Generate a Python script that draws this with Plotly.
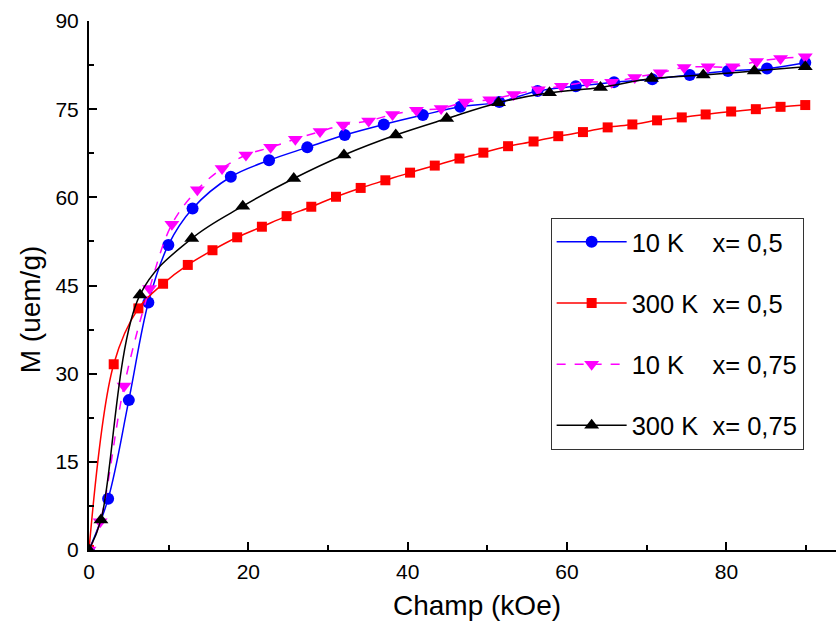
import plotly.graph_objects as go

# 10 K, x = 0,5 (blue circles)
b_x = [0, 2.4, 5.0, 7.45, 9.96, 13.0, 17.8, 22.6, 27.4, 32.1, 37.0, 41.9, 46.6, 51.5,
       56.3, 61.1, 65.9, 70.7, 75.4, 80.2, 85.1, 89.9]
b_y = [0, 8.7, 25.5, 42.1, 51.9, 58.1, 63.5, 66.3, 68.5, 70.6, 72.4, 74.0, 75.4, 76.2,
       78.1, 78.9, 79.6, 80.1, 80.8, 81.5, 81.9, 82.9]

# 300 K, x = 0,5 (red squares)
r_x = [0, 3.1, 6.2, 9.3, 12.4, 15.5, 18.6, 21.7, 24.8, 27.9, 31.0, 34.1, 37.2, 40.3, 43.4,
       46.5, 49.5, 52.6, 55.8, 58.9, 62.0, 65.1, 68.2, 71.3, 74.4, 77.4, 80.6, 83.7, 86.8, 89.9]
r_y = [0, 31.6, 41.1, 45.3, 48.5, 51.0, 53.2, 55.0, 56.8, 58.4, 60.1, 61.6, 62.9, 64.2, 65.4,
       66.6, 67.6, 68.7, 69.5, 70.4, 71.1, 71.9, 72.4, 73.1, 73.6, 74.1, 74.6, 75.0, 75.4, 75.7]

# 10 K, x = 0,75 (magenta down-triangles)
m_x = [0, 1.4, 4.4, 7.6, 10.4, 13.6, 16.7, 19.7, 22.8, 25.9, 29.0, 31.9, 35.1, 38.1, 41.1,
       44.2, 47.2, 50.3, 53.3, 56.4, 59.3, 62.5, 65.6, 68.5, 71.7, 74.7, 77.7, 80.8, 83.8, 86.8, 89.9]
m_y = [0, 4.8, 27.9, 44.5, 55.4, 61.3, 64.9, 67.2, 68.5, 69.9, 71.2, 72.3, 73.0, 74.1, 74.8,
       75.1, 76.2, 76.6, 77.5, 78.3, 78.9, 79.6, 79.6, 80.4, 81.2, 82.1, 82.2, 82.2, 83.1, 83.6, 83.9]

# 300 K, x = 0,75 (black up-triangles)
k_x = [0, 1.5, 6.4, 12.9, 19.3, 25.7, 32.0, 38.5, 44.9, 51.4, 57.8, 64.2, 70.6, 77.1, 83.5, 89.9]
k_y = [0, 5.1, 43.4, 53.0, 58.5, 63.2, 67.2, 70.6, 73.4, 76.1, 77.8, 78.7, 80.2, 80.8, 81.5, 82.2]

x_ticks = [0, 20, 40, 60, 80]
y_ticks = [0, 15, 30, 45, 60, 75, 90]

NB = "\u00a0"
names = ["10 K" + NB * 4 + "x= 0,5",
         "300 K" + NB * 2 + "x= 0,5",
         "10 K" + NB * 4 + "x= 0,75",
         "300 K" + NB * 2 + "x= 0,75"]

FONT = "Liberation Sans, Arial, sans-serif"

fig = go.Figure()
series = [
    (b_x, b_y, "#0000FF", "circle", 12, "solid"),
    (r_x, r_y, "#FF0000", "square", 10, "solid"),
    (m_x, m_y, "#FF00FF", "triangle-down", 13, "dash"),
    (k_x, k_y, "#000000", "triangle-up", 13, "solid"),
]
for i, (xs, ys, col, sym, sz, dash) in enumerate(series):
    fig.add_trace(go.Scatter(
        x=xs, y=ys, mode="lines+markers", name=names[i], legendgroup=str(i),
        line=dict(color=col, width=1.5, shape="spline", smoothing=1, dash=dash),
        marker=dict(color=col, symbol=sym, size=sz, line=dict(width=0)),
    ))

fig.update_layout(
    width=836, height=626,
    margin=dict(l=89, r=0, t=21, b=76),
    paper_bgcolor="white", plot_bgcolor="white",
    font=dict(family=FONT, color="black", size=21),
    showlegend=True,
    legend=dict(
        x=0.618, y=0.628, xanchor="left", yanchor="top",
        bordercolor="#333333", borderwidth=1, bgcolor="white",
        font=dict(size=25.5, family=FONT, color="black"),
        itemwidth=70, tracegroupgap=25,
    ),
    annotations=[
        dict(text="Champ (kOe)", xref="paper", yref="paper", x=0.519, y=-0.105,
             xanchor="center", yanchor="middle", showarrow=False,
             font=dict(size=28, family=FONT, color="black")),
        dict(text="M (uem/g)", xref="paper", yref="paper", x=-0.079, y=0.455,
             xanchor="center", yanchor="middle", showarrow=False, textangle=-90,
             font=dict(size=28, family=FONT, color="black")),
    ],
)
fig.update_xaxes(
    range=[0, 93.76], tickvals=x_ticks, ticks="inside", ticklen=8, tickwidth=2,
    tickcolor="black", showline=True, linewidth=2, linecolor="black",
    showgrid=False, zeroline=False,
    minor=dict(ticks="inside", ticklen=5, tickwidth=2, dtick=10, tickcolor="black", showgrid=False),
    tickfont=dict(size=21), ticklabelstandoff=2,
)
fig.update_yaxes(
    range=[0, 90], tickvals=y_ticks, ticks="inside", ticklen=8, tickwidth=2,
    tickcolor="black", showline=True, linewidth=2, linecolor="black",
    showgrid=False, zeroline=False,
    minor=dict(ticks="inside", ticklen=5, tickwidth=2, dtick=7.5, tickcolor="black", showgrid=False),
    tickfont=dict(size=21), ticklabelstandoff=4,
)

fig.write_html("out.html", config={"displayModeBar": False},
               post_script="document.body.style.margin='0';document.body.style.overflow='hidden';")
